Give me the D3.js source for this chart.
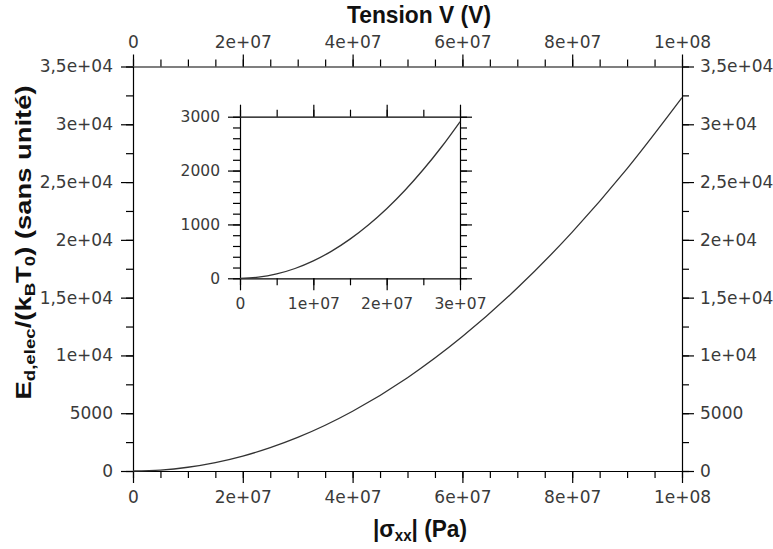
<!DOCTYPE html>
<html><head><meta charset="utf-8">
<script src="https://cdn.jsdelivr.net/npm/d3@7/dist/d3.min.js"></script>
<style>
body{margin:0;background:#fff}
.tick text{font-family:"DejaVu Sans",sans-serif;fill:#3a3a3a}
.title{font-family:"Liberation Sans",Arial,sans-serif;font-weight:bold;fill:#111}
</style>
</head><body>
<svg id="c" width="773" height="549"></svg>
<script>
// Main curve: |sigma_xx| (Pa) vs E_d,elec/(kB T0)
const sigma  = [0, 5e6, 1e7, 1.5e7, 2e7, 2.5e7, 3e7, 4e7, 5e7, 6e7, 7e7, 8e7, 9e7, 1e8];
const energy = [0, 80, 323, 727, 1290, 2020, 2905, 5170, 8075, 11630, 15830, 20670, 26160, 32300];
// Inset curve
const insetSigma  = [0, 2.5e6, 5e6, 7.5e6, 1e7, 1.25e7, 1.5e7, 1.75e7, 2e7, 2.25e7, 2.5e7, 2.75e7, 3e7];
const insetEnergy = [0, 20, 81, 182, 323, 505, 727, 990, 1292, 1635, 2019, 2442, 2907];
// Ticks
const xTickValues = [0, 2e7, 4e7, 6e7, 8e7, 1e8];
const xTickLabels = ["0", "2e+07", "4e+07", "6e+07", "8e+07", "1e+08"];
const yTickValues = [0, 5000, 10000, 15000, 20000, 25000, 30000, 35000];
const yTickLabels = ["0", "5000", "1e+04", "1,5e+04", "2e+04", "2,5e+04", "3e+04", "3,5e+04"];
const insetXTickValues = [0, 1e7, 2e7, 3e7];
const insetXTickLabels = ["0", "1e+07", "2e+07", "3e+07"];
const insetYTickValues = [0, 1000, 2000, 3000];
const insetYTickLabels = ["0", "1000", "2000", "3000"];

const svg = d3.select("#c");
const M = {l:133, r:682, t:66.5, b:471};
const x = d3.scaleLinear().domain([0, 1e8]).range([M.l, M.r]);
const y = d3.scaleLinear().domain([0, 35000]).range([M.b, M.t]);

const fmt = (vals, labels) => d => labels[vals.indexOf(d)];
const MAJ = 12, MIN = 7;

function styleAxis(g, fs){
  g.selectAll("path.domain").attr("stroke","#000").attr("stroke-width",1.2);
  g.selectAll(".tick line").attr("stroke","#000").attr("stroke-width",1.2);
  g.selectAll(".tick text").style("font-size", fs+"px");
  g.attr("font-family", null).attr("font-size", null);
}
function minor(g){ g.selectAll("path.domain").remove(); g.selectAll(".tick text").remove();
  g.selectAll(".tick line").attr("stroke","#000").attr("stroke-width",1.2); }

const xMinor = d3.range(0, 1e8 + 1, 5e6);
const yMinor = d3.range(0, 35001, 2500);

// minor ticks main
svg.append("g").attr("transform",`translate(0,${M.b})`).call(d3.axisBottom(x).tickValues(xMinor).tickSize(MIN).tickFormat("")).call(minor);
svg.append("g").attr("transform",`translate(0,${M.t})`).call(d3.axisTop(x).tickValues(xMinor).tickSize(MIN).tickFormat("")).call(minor);
svg.append("g").attr("transform",`translate(${M.l},0)`).call(d3.axisLeft(y).tickValues(yMinor).tickSize(MIN).tickFormat("")).call(minor);
svg.append("g").attr("transform",`translate(${M.r},0)`).call(d3.axisRight(y).tickValues(yMinor).tickSize(MIN).tickFormat("")).call(minor);

// major axes main
svg.append("g").attr("transform",`translate(0,${M.b})`)
  .call(d3.axisBottom(x).tickValues(xTickValues).tickFormat(fmt(xTickValues,xTickLabels)).tickSize(MAJ).tickSizeOuter(0).tickPadding(8))
  .call(g=>styleAxis(g,17));
svg.append("g").attr("transform",`translate(0,${M.t})`)
  .call(d3.axisTop(x).tickValues(xTickValues).tickFormat(fmt(xTickValues,xTickLabels)).tickSize(MAJ).tickSizeOuter(0).tickPadding(7))
  .call(g=>styleAxis(g,17));
svg.append("g").attr("transform",`translate(${M.l},0)`)
  .call(d3.axisLeft(y).tickValues(yTickValues).tickFormat(fmt(yTickValues,yTickLabels)).tickSize(MAJ).tickSizeOuter(0).tickPadding(8))
  .call(g=>styleAxis(g,17));
svg.append("g").attr("transform",`translate(${M.r},0)`)
  .call(d3.axisRight(y).tickValues(yTickValues).tickFormat(fmt(yTickValues,yTickLabels)).tickSize(MAJ).tickSizeOuter(0).tickPadding(6))
  .call(g=>styleAxis(g,17));

// main curve
const line = d3.line().x((d,i)=>x(sigma[i])).y((d,i)=>y(energy[i])).curve(d3.curveMonotoneX);
svg.append("path").datum(energy).attr("d", line).attr("fill","none").attr("stroke","#333").attr("stroke-width",1.3);

// Inset
const I = {l:240, r:460, t:116.7, b:278.3};
const xi = d3.scaleLinear().domain([0, 3e7]).range([I.l, I.r]);
const yi = d3.scaleLinear().domain([0, 3000]).range([I.b, I.t]);
svg.append("rect").attr("x",I.l).attr("y",I.t).attr("width",I.r-I.l).attr("height",I.b-I.t).attr("fill","#fff");
const xiMinor = d3.range(0, 3e7 + 1, 5e6);
const yiMinor = d3.range(0, 3001, 200);
svg.append("g").attr("transform",`translate(0,${I.b})`).call(d3.axisBottom(xi).tickValues(xiMinor).tickSize(MIN).tickFormat("")).call(minor);
svg.append("g").attr("transform",`translate(0,${I.t})`).call(d3.axisTop(xi).tickValues(xiMinor).tickSize(MIN).tickFormat("")).call(minor);
svg.append("g").attr("transform",`translate(${I.l},0)`).call(d3.axisLeft(yi).tickValues(yiMinor).tickSize(MIN).tickFormat("")).call(minor);
svg.append("g").attr("transform",`translate(${I.r},0)`).call(d3.axisRight(yi).tickValues(yiMinor).tickSize(MIN).tickFormat("")).call(minor);

svg.append("g").attr("transform",`translate(0,${I.b})`)
  .call(d3.axisBottom(xi).tickValues(insetXTickValues).tickFormat(fmt(insetXTickValues,insetXTickLabels)).tickSize(MAJ).tickSizeOuter(0).tickPadding(8))
  .call(g=>styleAxis(g,15.5));
svg.append("g").attr("transform",`translate(0,${I.t})`)
  .call(d3.axisTop(xi).tickValues(insetXTickValues).tickFormat("").tickSize(MAJ).tickSizeOuter(0))
  .call(g=>styleAxis(g,15.5));
svg.append("g").attr("transform",`translate(${I.l},0)`)
  .call(d3.axisLeft(yi).tickValues(insetYTickValues).tickFormat(fmt(insetYTickValues,insetYTickLabels)).tickSize(MAJ).tickSizeOuter(0).tickPadding(8))
  .call(g=>styleAxis(g,15.5));
svg.append("g").attr("transform",`translate(${I.r},0)`)
  .call(d3.axisRight(yi).tickValues(insetYTickValues).tickFormat("").tickSize(MAJ).tickSizeOuter(0))
  .call(g=>styleAxis(g,15.5));

const lineI = d3.line().x((d,i)=>xi(insetSigma[i])).y((d,i)=>yi(insetEnergy[i])).curve(d3.curveMonotoneX);
svg.append("path").datum(insetEnergy).attr("d", lineI).attr("fill","none").attr("stroke","#333").attr("stroke-width",1.3);

// Titles
svg.append("text").attr("class","title").attr("x",419).attr("y",23).attr("text-anchor","middle")
  .attr("textLength",144).attr("lengthAdjust","spacingAndGlyphs")
  .style("font-size","24px").text("Tension V (V)");

const xt = svg.append("text").attr("class","title").attr("x",420).attr("y",537).attr("text-anchor","middle")
  .attr("textLength",94).attr("lengthAdjust","spacingAndGlyphs").style("font-size","24px");
xt.append("tspan").text("|σ");
xt.append("tspan").attr("baseline-shift","-25%").style("font-size","16px").text("xx");
xt.append("tspan").text("| (Pa)");

const yt = svg.append("text").attr("class","title").attr("transform","translate(30.5,242.5) rotate(-90)").attr("text-anchor","middle")
  .attr("textLength",314).attr("lengthAdjust","spacingAndGlyphs")
  .style("font-size","22px");
yt.append("tspan").text("E");
yt.append("tspan").attr("baseline-shift","-25%").style("font-size","15px").text("d,elec");
yt.append("tspan").text("/(k");
yt.append("tspan").attr("baseline-shift","-25%").style("font-size","15px").text("B");
yt.append("tspan").text("T");
yt.append("tspan").attr("baseline-shift","-25%").style("font-size","15px").text("0");
yt.append("tspan").text(") (sans unité)");
</script>
</body></html>
